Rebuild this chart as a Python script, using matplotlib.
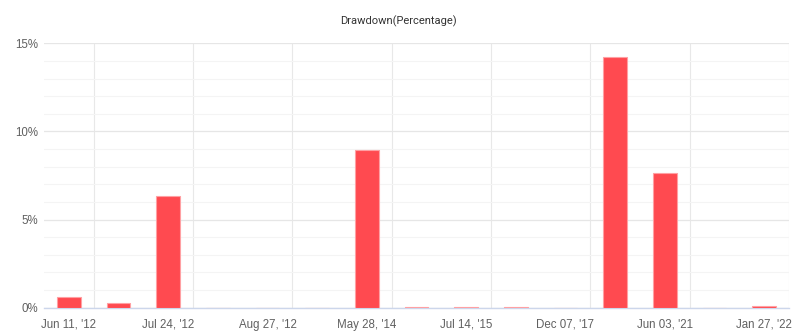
import matplotlib
matplotlib.use("Agg")
import matplotlib.pyplot as plt
import numpy as np
from matplotlib.ticker import MultipleLocator, FuncFormatter

plt.rcParams['font.family'] = ['Roboto', 'DejaVu Sans']

# Data (drawdown in %), 15 periods; every other period labelled
values = [0.59, 0.25, 6.34, 0.0, 0.0, 0.0, 8.93, 0.05, 0.05, 0.05, 0.0, 14.2, 7.62, 0.0, 0.1]
tick_labels = ["Jun 11, '12", "Jul 24, '12", "Aug 27, '12", "May 28, '14",
               "Jul 14, '15", "Dec 07, '17", "Jun 03, '21", "Jan 27, '22"]
title = "Drawdown(Percentage)"

fig = plt.figure(figsize=(7.96, 3.36), dpi=100)
ax = fig.add_axes([44/796, (336-307.7)/336, (789-44)/796, (307.7-43.3)/336])

x = np.arange(len(values))
ax.bar(x, values, width=0.48, color='#ff4a50', edgecolor='#ffa0a3', linewidth=0.8, zorder=3)

ax.set_xlim(-0.5, len(values) - 0.5)
ax.set_ylim(0, 15)

ax.set_xticks(x[::2])
ax.set_xticklabels(tick_labels)
ax.yaxis.set_major_locator(MultipleLocator(5))
ax.yaxis.set_minor_locator(MultipleLocator(1))
ax.yaxis.set_major_formatter(FuncFormatter(lambda v, p: f"{int(v)}%"))

# grid
ax.grid(axis='y', which='major', color='#e6e6e6', linewidth=0.9, zorder=0)
ax.grid(axis='y', which='minor', color='#f4f4f4', linewidth=0.8, zorder=0)
for b in np.arange(0.5, len(values), 2):
    ax.axvline(b, color='#e8e8e8', linewidth=0.8, zorder=0)

for s in ['top', 'right', 'left']:
    ax.spines[s].set_visible(False)
ax.spines['bottom'].set_color('#ccd6eb')
ax.spines['bottom'].set_linewidth(1.0)

ax.tick_params(axis='both', which='both', length=0, labelsize=8.3, labelcolor='#606060')
ax.tick_params(axis='x', pad=8)
ax.tick_params(axis='y', pad=4)
for lab in ax.get_xticklabels() + ax.get_yticklabels():
    lab.set_family(['Liberation Sans', 'DejaVu Sans'])

fig.text(0.5, 1 - 21/336, title, ha='center', va='center', fontsize=8, color='#333333')

fig.savefig('out.png', dpi=100, facecolor='white')
